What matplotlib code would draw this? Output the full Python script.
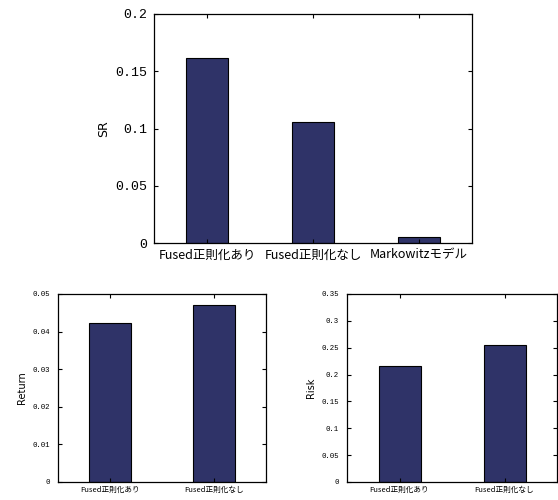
import matplotlib.pyplot as plt

plt.rcParams['font.family'] = ['Noto Sans CJK JP', 'DejaVu Sans']

# data
sr_labels = ["Fused正則化あり", "Fused正則化なし", "Markowitzモデル"]
sr_values = [0.162, 0.1057, 0.005]
sub_labels = ["Fused正則化あり", "Fused正則化なし"]
return_values = [0.0422, 0.0471]
risk_values = [0.2157, 0.2543]

BAR_COLOR = "#2f3368"
MONO = "Liberation Mono"


def matlab_bar(ax, labels, values, ylim, yticks, ylabel, tick_fs, label_fs, ylabel_fs,
               ypad, xpad):
    x = list(range(1, len(values) + 1))
    ax.bar(x, values, width=0.4, color=BAR_COLOR, edgecolor="black", linewidth=0.8)
    ax.set_xlim(0.5, len(values) + 0.5)
    ax.set_ylim(*ylim)
    ax.set_xticks(x)
    ax.set_xticklabels(labels, fontsize=label_fs)
    ax.set_yticks(yticks)
    ax.set_yticklabels([("%g" % t) for t in yticks], fontsize=tick_fs, family=MONO)
    ax.tick_params(direction="in", top=True, right=True, length=3, width=0.8)
    ax.tick_params(axis="y", pad=ypad)
    ax.tick_params(axis="x", pad=xpad)
    ax.set_ylabel(ylabel, fontsize=ylabel_fs, family="DejaVu Sans")
    for sp in ax.spines.values():
        sp.set_linewidth(0.9)


fig = plt.figure(figsize=(5.58, 5.0), dpi=100)
W, H = 558.0, 500.0

ax1 = fig.add_axes([154 / W, 1 - 243 / H, 318 / W, 229 / H])
matlab_bar(ax1, sr_labels, sr_values, (0, 0.2), [0, 0.05, 0.1, 0.15, 0.2], "SR",
           9.5, 9, 9, 4.5, 4)

ax2 = fig.add_axes([58 / W, 1 - 482 / H, 208 / W, 188 / H])
matlab_bar(ax2, sub_labels, return_values, (0, 0.05), [0, 0.01, 0.02, 0.03, 0.04, 0.05],
           "Return", 5.3, 5.5, 7, 6, 3)

ax3 = fig.add_axes([347 / W, 1 - 482 / H, 210 / W, 188 / H])
matlab_bar(ax3, sub_labels, risk_values, (0, 0.35),
           [0, 0.05, 0.1, 0.15, 0.2, 0.25, 0.3, 0.35], "Risk", 5.3, 5.5, 7, 6, 3)

fig.savefig("out.png", dpi=100)
